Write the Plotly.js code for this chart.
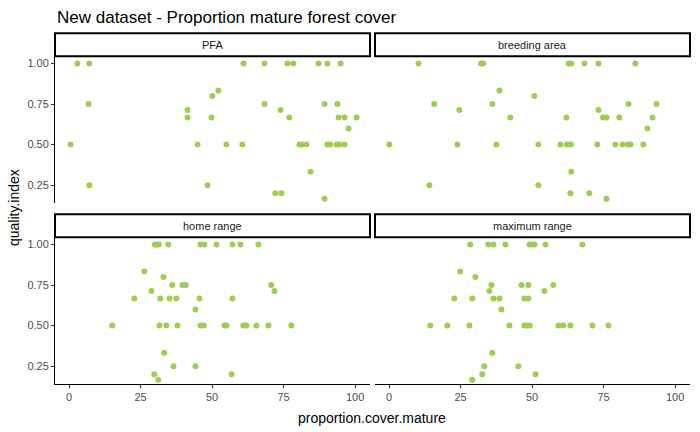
<!DOCTYPE html>
<html><head><meta charset="utf-8">
<script src="https://cdn.plot.ly/plotly-3.0.1.min.js"></script>
<style>body{margin:0}</style></head>
<body><div id="chart" style="width:700px;height:432px"></div>
<script>
var panels = ["PFA", "breeding area", "home range", "maximum range"];

var pfa_x = [2.9,7.1,61,68.3,76.3,78.4,87.2,90.3,94.9, 52.2, 50.1, 6.8,68.3,89.3,93.8, 41.4,73.9,
  41.4,49.8,77,94.2,96.3,100.5, 97.7, 0.5,44.9,55,60.6,80.5,81.4,83,90.3,91.3,93.5,94.4,96.3,
  84.4, 7.1,48.4, 72.1,74.2, 89.3];
var pfa_y = [1,1,1,1,1,1,1,1,1, 0.833, 0.8, 0.75,0.75,0.75,0.75, 0.714,0.714,
  0.667,0.667,0.667,0.667,0.667,0.667, 0.6, 0.5,0.5,0.5,0.5,0.5,0.5,0.5,0.5,0.5,0.5,0.5,0.5,
  0.333, 0.25,0.25, 0.2,0.2, 0.167];

var breed_x = [10.3,32.2,32.9,62.8,63.7,68.3,73.2,86.1, 38.6, 50.8, 15.8,36.1,83.7,93.5, 24.6,73.2,
  42.4,62,74.8,76,80.5,92.1, 90.3, 0.1,23.9,37.5,52.2,59.9,62.2,63.6,72.8,79.1,81.6,83.5,84.4,88.9,
  63.7, 14.1,52.2, 63.4,70, 76];
var breed_y = [1,1,1,1,1,1,1,1, 0.833, 0.8, 0.75,0.75,0.75,0.75, 0.714,0.714,
  0.667,0.667,0.667,0.667,0.667,0.667, 0.6, 0.5,0.5,0.5,0.5,0.5,0.5,0.5,0.5,0.5,0.5,0.5,0.5,0.5,
  0.333, 0.25,0.25, 0.2,0.2, 0.167];

var home_x = [30,30.7,31.4,34.7,45.9,47.3,51.5,57.1,59.9,66.2, 26.3, 33, 36.1,39.6,40.8,70.7, 28.8,71.8,
  22.8,31.9,35.1,37.5,45.6,57.1, 44.2, 15.1,31.6,34,37.9,45.9,47.1,54.3,55,60.9,62,65.5,69.7,77.7,
  33.3, 36.5,44.2, 29.8,56.8, 31.2];
var home_y = [1,1,1,1,1,1,1,1,1,1, 0.833, 0.8, 0.75,0.75,0.75,0.75, 0.714,0.714,
  0.667,0.667,0.667,0.667,0.667,0.667, 0.6, 0.5,0.5,0.5,0.5,0.5,0.5,0.5,0.5,0.5,0.5,0.5,0.5,0.5,
  0.333, 0.25,0.25, 0.2,0.2, 0.167];

var max_x = [28.4,34.7,36.5,40.7,49.1,50,50.9,54.7,67.6, 24.9, 30.2, 35.8,46.3,48.7,57.4, 35.1,54.3,
  22.8,29.1,36.5,38.6,47.3,48.7, 39.3, 14.4,20.4,28.1,42.1,47.3,48.3,49.2,59.2,60.9,63.4,71.1,76.7,
  36.1, 33.3,45.2, 32.6,51.2, 29.1];
var max_y = [1,1,1,1,1,1,1,1,1, 0.833, 0.8, 0.75,0.75,0.75,0.75, 0.714,0.714,
  0.667,0.667,0.667,0.667,0.667,0.667, 0.6, 0.5,0.5,0.5,0.5,0.5,0.5,0.5,0.5,0.5,0.5,0.5,0.5,
  0.333, 0.25,0.25, 0.2,0.2, 0.167];

var xticks = [0, 25, 50, 75, 100];
var yticks = [0.25, 0.5, 0.75, 1.0];
var yticklabels = ["0.25", "0.50", "0.75", "1.00"];

var xs = [pfa_x, breed_x, home_x, max_x];
var ys = [pfa_y, breed_y, home_y, max_y];
var green = "#9fcc55";

var traces = [];
for (var i = 0; i < 4; i++) {
  traces.push({
    type: "scatter", mode: "markers",
    x: xs[i], y: ys[i],
    xaxis: i == 0 ? "x" : "x" + (i + 1),
    yaxis: i == 0 ? "y" : "y" + (i + 1),
    marker: {color: green, size: 6},
    showlegend: false, hoverinfo: "x+y"
  });
}

var xdom = [[0.0786, 0.5286], [0.5357, 0.9857]];
var ydom = [[0.530, 0.870], [0.111, 0.451]];
var font = {family: "Liberation Sans, Arial, sans-serif"};

var layout = {
  width: 700, height: 432,
  margin: {l: 0, r: 0, t: 0, b: 0},
  paper_bgcolor: "white", plot_bgcolor: "white",
  font: font,
  title: {text: "New dataset - Proportion mature forest cover", x: 57/700, xanchor: "left",
    y: 1 - 17/432, yanchor: "middle", font: {size: 17, color: "black"}},
  shapes: [], annotations: []
};

for (var i = 0; i < 4; i++) {
  var col = i % 2, row = Math.floor(i / 2);
  var sfx = i == 0 ? "" : String(i + 1);
  var bottom = row == 1, left = col == 0;
  layout["xaxis" + sfx] = {
    domain: xdom[col], anchor: "y" + sfx, range: [-4.9, 105.2],
    tickvals: xticks, showticklabels: bottom, ticks: bottom ? "outside" : "",
    ticklen: 3, tickcolor: "#333", showline: bottom, linecolor: "black", linewidth: 1,
    showgrid: false, zeroline: false, tickfont: {size: 11, color: "#4d4d4d"}
  };
  layout["yaxis" + sfx] = {
    domain: ydom[row], anchor: "x" + sfx, range: [0.14, 1.045],
    tickvals: yticks, ticktext: yticklabels, showticklabels: left,
    ticks: left ? "outside" : "", ticklen: 3, tickcolor: "#333",
    showline: left, linecolor: "black", linewidth: 1,
    showgrid: false, zeroline: false, tickfont: {size: 11, color: "#4d4d4d"}
  };
  // facet strip
  layout.shapes.push({type: "rect", xref: "paper", yref: "paper",
    x0: xdom[col][0], x1: xdom[col][1], y0: ydom[row][1], y1: ydom[row][1] + 23/432,
    fillcolor: "white", line: {color: "black", width: 2}});
  layout.annotations.push({text: panels[i], xref: "paper", yref: "paper", showarrow: false,
    x: (xdom[col][0] + xdom[col][1]) / 2, y: ydom[row][1] + 11.5/432,
    xanchor: "center", yanchor: "middle", font: {size: 11, color: "#1a1a1a"}});
}

layout.annotations.push({text: "proportion.cover.mature", xref: "paper", yref: "paper", showarrow: false,
  x: 372/700, y: 1 - 418/432, xanchor: "center", yanchor: "middle", font: {size: 14, color: "black"}});
layout.annotations.push({text: "quality.index", xref: "paper", yref: "paper", showarrow: false,
  x: 14/700, y: 1 - 208/432, textangle: -90, xanchor: "center", yanchor: "middle", font: {size: 14, color: "black"}});

Plotly.newPlot("chart", traces, layout, {displayModeBar: false, staticPlot: true});
</script></body></html>
